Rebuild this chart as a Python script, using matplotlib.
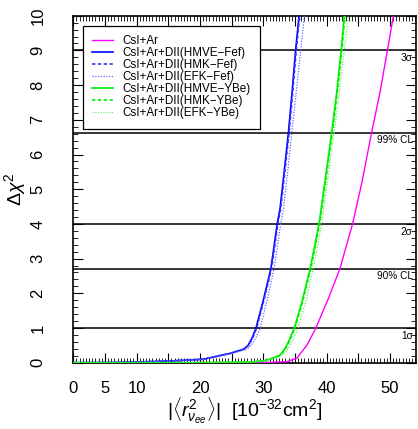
import matplotlib
matplotlib.use('Agg')
import matplotlib.pyplot as plt
from matplotlib.ticker import MultipleLocator

plt.rcParams['font.family'] = ['Liberation Sans', 'DejaVu Sans']
plt.rcParams['mathtext.fontset'] = 'custom'
plt.rcParams['mathtext.rm'] = 'Liberation Sans'
plt.rcParams['mathtext.it'] = 'Liberation Sans:italic'

# data
x_ar = [0, 30, 33.7, 35.3, 36.9, 38.3, 40.3, 42.1, 44.1, 45.6, 47.1, 48.45, 49.6, 50.55]
y_ar = [0, 0, 0.03, 0.13, 0.51, 1.0, 1.86, 2.71, 4.0, 5.22, 6.63, 7.81, 9.0, 10.0]

x_hmve_fef = [0, 5, 10, 15.3, 20.5, 24.8, 26.9, 27.6, 28.2, 28.85, 30, 31.2, 32.2, 32.65, 33.3, 33.97, 34.55, 35.1, 35.65]
y_hmve_fef = [0, 0.005, 0.02, 0.05, 0.1, 0.27, 0.39, 0.5, 0.7, 1.0, 1.8, 2.71, 4.0, 4.45, 5.5, 6.63, 7.8, 9.0, 10.0]
x_hmk_fef = [0, 5, 10, 15.3, 20.5, 24.8, 26.9, 27.7, 28.3, 28.95, 30.1, 31.3, 32.3, 32.75, 33.4, 34.07, 34.65, 35.2, 35.75]
y_hmk_fef = y_hmve_fef
x_efk_fef = [0, 5, 10, 15.5, 20.8, 25.2, 27.4, 28.1, 28.8, 29.5, 30.6, 31.7, 32.75, 33.2, 33.85, 34.5, 35.2, 35.9, 36.5]
y_efk_fef = y_hmve_fef

x_hmve_ybe = [0, 20, 28, 30, 31, 32, 32.65, 33.4, 34.1, 34.9, 36.1, 37.4, 38.8, 39.8, 40.8, 41.6, 42.3, 42.8]
y_hmve_ybe = [0, 0, 0.02, 0.05, 0.1, 0.17, 0.22, 0.4, 0.65, 1.0, 1.75, 2.71, 4.0, 5.3, 6.63, 7.8, 9.0, 10.0]
x_hmk_ybe = [0, 20, 28, 30, 31, 32, 32.75, 33.5, 34.2, 35.0, 36.2, 37.5, 38.9, 39.9, 40.9, 41.7, 42.4, 42.9]
y_hmk_ybe = y_hmve_ybe
x_efk_ybe = [0, 20, 28, 30.3, 31.4, 32.4, 33.1, 33.9, 34.7, 35.5, 36.7, 37.9, 39.2, 40.2, 41.2, 42.0, 42.8, 43.45]
y_efk_ybe = y_hmve_ybe

cl_values = [1.0, 2.71, 4.0, 6.63, 9.0]
cl_labels = ['1σ', '90% CL', '2σ', '99% CL', '3σ']

x_ticks = [0, 5, 10, 15, 20, 25, 30, 35, 40, 45, 50]
x_ticklabels = ['0', '5', '10', '', '20', '', '30', '', '40', '', '50']

fig = plt.figure(figsize=(4.18, 4.29), dpi=100)
ax = fig.add_axes([0.1754, 0.1545, 0.8196, 0.8089])

for v, lab in zip(cl_values, cl_labels):
    ax.axhline(v, color='black', lw=1.1, zorder=1)
    ax.text(53.6, v - 0.08, lab, ha='right', va='top', fontsize=7.3, zorder=2)

ax.plot(x_ar, y_ar, color='#ff00ff', lw=1, label='CsI+Ar', zorder=3)
ax.plot(x_hmve_fef, y_hmve_fef, color='#0000ff', lw=1.2, label='CsI+Ar+DII(HMVE−Fef)', zorder=3)
ax.plot(x_hmk_fef, y_hmk_fef, color='#3333ff', lw=1.2, ls=(0, (2, 1.5)), label='CsI+Ar+DII(HMK−Fef)', zorder=3)
ax.plot(x_efk_fef, y_efk_fef, color='#6666ff', lw=0.9, ls=(0, (1, 1.2)), label='CsI+Ar+DII(EFK−Fef)', zorder=3)
ax.plot(x_hmve_ybe, y_hmve_ybe, color='#00ee00', lw=1.2, label='CsI+Ar+DII(HMVE−YBe)', zorder=3)
ax.plot(x_hmk_ybe, y_hmk_ybe, color='#00ee00', lw=1.2, ls=(0, (2, 1.5)), label='CsI+Ar+DII(HMK−YBe)', zorder=3)
ax.plot(x_efk_ybe, y_efk_ybe, color='#66ee66', lw=0.9, ls=(0, (1, 1.2)), label='CsI+Ar+DII(EFK−YBe)', zorder=3)

ax.set_xlim(0, 54.1)
ax.set_ylim(0, 10)

ax.set_xticks(x_ticks)
ax.set_xticklabels(x_ticklabels, fontsize=12)
ax.xaxis.set_minor_locator(MultipleLocator(0.5))
ax.set_yticks(range(0, 11))
ax.set_yticklabels([str(i) for i in range(0, 11)], fontsize=12, rotation=90, va='center')
ax.yaxis.set_minor_locator(MultipleLocator(0.2))

ax.tick_params(which='both', direction='in', top=True, right=True)
ax.tick_params(which='major', length=7, width=0.8)
ax.tick_params(which='minor', length=3.5, width=0.6)
ax.tick_params(axis='x', which='major', pad=13)
ax.tick_params(axis='y', which='major', pad=20)
for s in ax.spines.values():
    s.set_linewidth(1.2)

ax.set_xlabel(r'$|\langle r^2_{\nu_{ee}}\rangle|$  [10$^{-32}$cm$^2$]', fontsize=14, labelpad=0)
ax.set_ylabel(r'$\Delta\chi^2$', fontsize=14, labelpad=2)

leg = ax.legend(loc='upper left', bbox_to_anchor=(0.028, 0.97), borderaxespad=0,
                fontsize=8.4, fancybox=False, edgecolor='black', framealpha=1,
                handlelength=1.75, handletextpad=0.85, labelspacing=0.0,
                borderpad=0.8)
leg.get_frame().set_linewidth(0.9)
leg.set_zorder(5)

plt.savefig('out.png', dpi=100)
